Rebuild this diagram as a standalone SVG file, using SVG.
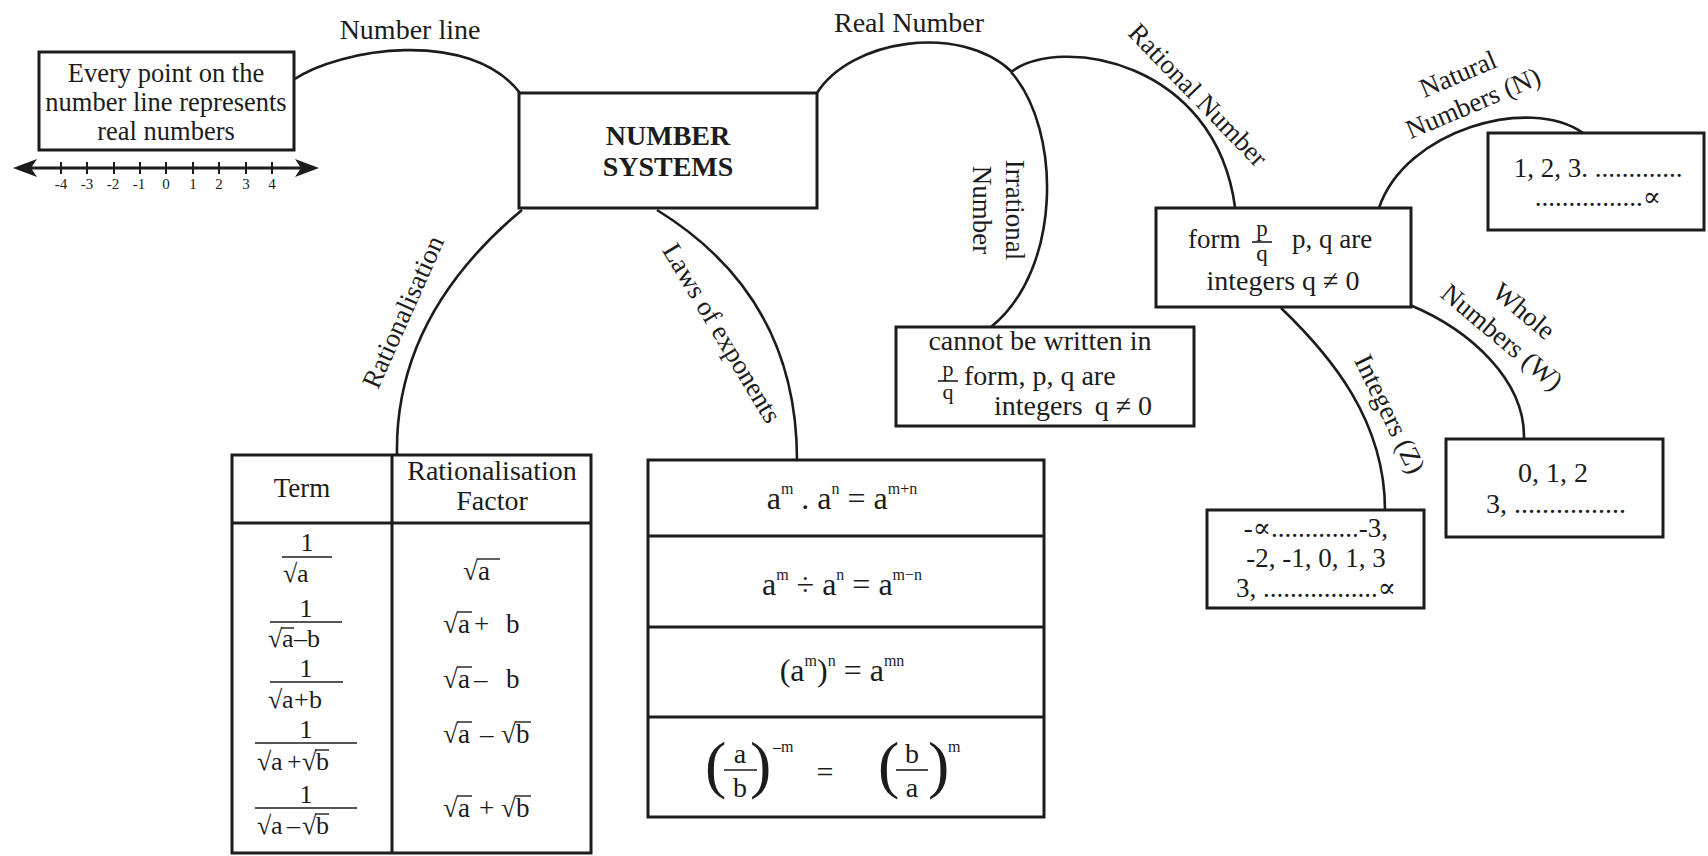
<svg xmlns="http://www.w3.org/2000/svg" width="1708" height="856" viewBox="0 0 1708 856" font-size="27">
<style>
text { font-family: 'Liberation Serif', 'DejaVu Serif', serif; fill: #1c1c1c; }
.c { text-anchor: middle; }
.box { fill: #fff; stroke: #1c1c1c; stroke-width: 3; }
.ln { fill: none; stroke: #1c1c1c; stroke-width: 2.6; }
.rule { stroke: #1c1c1c; stroke-width: 3; }
.bar { stroke: #1c1c1c; stroke-width: 1.6; }
.ov { stroke: #1c1c1c; stroke-width: 1.4; }
.bd { font-weight: bold; font-size: 28px; }
.lab { font-size: 28px; }
.tk { font-size: 15px; }
.sp { font-size: 16px; }
.fr { font-size: 23px; }
.pa { font-size: 64px; }
</style>
<rect width="1708" height="856" fill="#fff"/>

<g id="connectors">
  <path class="ln" d="M293,80 C340,48 470,28 520,93"/>
  <path class="ln" d="M817,93 C850,40 960,22 1012,72"/>
  <path class="ln" d="M1011,72 C1062,130 1062,270 991,327"/>
  <path class="ln" d="M1011,72 C1060,35 1215,60 1235,207"/>
  <path class="ln" d="M1379,208 C1405,130 1530,95 1583,133"/>
  <path class="ln" d="M1410,305 C1470,330 1525,380 1524,438"/>
  <path class="ln" d="M1281,308 C1330,355 1385,420 1385,510"/>
  <path class="ln" d="M522,210 C450,270 395,350 397,455"/>
  <path class="ln" d="M657,210 C730,255 797,330 797,460"/>
</g>

<g id="connector-labels">
  <text class="c lab" x="410" y="39">Number line</text>
  <text class="c lab" x="909" y="32">Real Number</text>
  <g transform="translate(1198,95) rotate(46)"><text class="c" x="0" y="9">Rational Number</text></g>
  <g transform="translate(990,210) rotate(90)">
    <text class="c" x="0" y="-16">Irrational</text>
    <text class="c" x="0" y="17">Number</text>
  </g>
  <g transform="translate(1458,74) rotate(-23)"><text class="c" x="0" y="9">Natural</text></g>
  <g transform="translate(1473,103) rotate(-23)"><text class="c" x="0" y="9">Numbers (N)</text></g>
  <g transform="translate(1524,311) rotate(40)"><text class="c" x="0" y="9">Whole</text></g>
  <g transform="translate(1502,337) rotate(40)"><text class="c" x="0" y="9">Numbers (W)</text></g>
  <g transform="translate(1390,414) rotate(64)"><text class="c" x="0" y="9">Integers (Z)</text></g>
  <g transform="translate(403,312) rotate(-66)"><text class="c" x="0" y="9">Rationalisation</text></g>
  <g transform="translate(722,333) rotate(59)"><text class="c" x="0" y="9">Laws of exponents</text></g>
</g>

<g id="n-number-line">
  <rect class="box" x="39" y="52" width="255" height="98"/>
  <text class="c" x="166" y="82" font-size="26.5">Every point on the</text>
  <text class="c" x="166" y="111" font-size="26.5">number line represents</text>
  <text class="c" x="166" y="140" font-size="26.5">real numbers</text>
  <line class="rule" x1="30" y1="168" x2="302" y2="168" stroke-width="2.6"/>
  <polygon points="13,168 37,159 31,168 37,177" fill="#1c1c1c"/>
  <polygon points="319,168 295,159 301,168 295,177" fill="#1c1c1c"/>
  <g stroke="#1c1c1c" stroke-width="2">
    <line x1="61" y1="162" x2="61" y2="174"/><line x1="87" y1="162" x2="87" y2="174"/>
    <line x1="114" y1="162" x2="114" y2="174"/><line x1="140" y1="162" x2="140" y2="174"/>
    <line x1="166" y1="162" x2="166" y2="174"/><line x1="193" y1="162" x2="193" y2="174"/>
    <line x1="219" y1="162" x2="219" y2="174"/><line x1="246" y1="162" x2="246" y2="174"/>
    <line x1="272" y1="162" x2="272" y2="174"/>
  </g>
  <text class="c tk" x="61" y="189">-4</text><text class="c tk" x="87" y="189">-3</text>
  <text class="c tk" x="113" y="189">-2</text><text class="c tk" x="139" y="189">-1</text>
  <text class="c tk" x="166" y="189">0</text><text class="c tk" x="193" y="189">1</text>
  <text class="c tk" x="219" y="189">2</text><text class="c tk" x="246" y="189">3</text>
  <text class="c tk" x="272" y="189">4</text>
</g>

<g id="n-center">
  <rect class="box" x="519" y="93" width="298" height="115"/>
  <text class="c bd" x="668" y="145">NUMBER</text>
  <text class="c bd" x="668" y="176">SYSTEMS</text>
</g>

<g id="n-irrational">
  <rect class="box" x="896" y="327" width="298" height="99"/>
  <text class="c" x="1040" y="350" font-size="28">cannot be written in</text>
  <text class="c" x="948" y="376" font-size="22">p</text>
  <line class="bar" x1="938" y1="381" x2="958" y2="381"/>
  <text class="c" x="948" y="399" font-size="22">q</text>
  <text x="964" y="385" font-size="28">form, p, q are</text>
  <text x="994" y="415" font-size="28">integers<tspan dx="12">q ≠ 0</tspan></text>
</g>

<g id="n-rational">
  <rect class="box" x="1156" y="208" width="255" height="99"/>
  <text x="1188" y="248">form</text>
  <text class="c fr" x="1262" y="236">p</text>
  <line class="bar" x1="1252" y1="242" x2="1272" y2="242"/>
  <text class="c fr" x="1262" y="261">q</text>
  <text x="1292" y="248">p, q are</text>
  <text class="c" x="1283" y="290" font-size="28">integers q ≠ 0</text>
</g>

<g id="n-natural">
  <rect class="box" x="1488" y="133" width="216" height="97"/>
  <text class="c" x="1598" y="177">1, 2, 3. .............</text>
  <text class="c" x="1598" y="206">................∝</text>
</g>

<g id="n-whole">
  <rect class="box" x="1446" y="439" width="217" height="98"/>
  <text class="c" x="1553" y="482" font-size="28">0, 1, 2</text>
  <text x="1486" y="513" font-size="28">3, ................</text>
</g>

<g id="n-integers">
  <rect class="box" x="1207" y="510" width="217" height="98"/>
  <text class="c" x="1316" y="537">-∝.............-3,</text>
  <text class="c" x="1316" y="567">-2, -1, 0, 1, 3</text>
  <text class="c" x="1316" y="597">3, .................∝</text>
</g>

<g id="n-rationalisation-table">
  <rect class="box" x="232" y="455" width="359" height="398"/>
  <line class="rule" x1="392" y1="455" x2="392" y2="853"/>
  <line class="rule" x1="232" y1="523" x2="591" y2="523" stroke-width="3.6"/>
  <text class="c" x="302" y="497">Term</text>
  <text class="c" x="492" y="480" font-size="28">Rationalisation</text>
  <text class="c" x="492" y="510" font-size="28">Factor</text>

  <g font-size="26">
    <text class="c" x="307" y="551">1</text>
    <line class="bar" x1="282" y1="557" x2="332" y2="557"/>
    <text y="582"><tspan x="283">√</tspan><tspan x="297">a</tspan></text>

    <text class="c" x="306" y="617">1</text>
    <line class="bar" x1="270" y1="622" x2="342" y2="622"/>
    <text y="647"><tspan x="268">√</tspan><tspan x="282">a</tspan><tspan x="294">–</tspan><tspan x="307">b</tspan></text>
    <line class="ov" x1="281" y1="628" x2="294" y2="628"/>

    <text class="c" x="306" y="677">1</text>
    <line class="bar" x1="270" y1="682" x2="343" y2="682"/>
    <text y="708"><tspan x="268">√</tspan><tspan x="282">a</tspan><tspan x="294">+</tspan><tspan x="309">b</tspan></text>

    <text class="c" x="306" y="738">1</text>
    <line class="bar" x1="255" y1="743" x2="357" y2="743"/>
    <text y="770"><tspan x="257">√</tspan><tspan x="271">a</tspan><tspan x="287">+</tspan><tspan x="302">√</tspan><tspan x="316">b</tspan></text>
    <line class="ov" x1="315" y1="750" x2="329" y2="750"/>

    <text class="c" x="306" y="803">1</text>
    <line class="bar" x1="255" y1="808" x2="357" y2="808"/>
    <text y="834"><tspan x="257">√</tspan><tspan x="271">a</tspan><tspan x="287">–</tspan><tspan x="302">√</tspan><tspan x="316">b</tspan></text>
    <line class="ov" x1="315" y1="814" x2="329" y2="814"/>
  </g>

  <text y="580"><tspan x="463">√</tspan><tspan x="478">a</tspan></text>
  <line class="ov" x1="477" y1="559" x2="500" y2="559"/>
  <text y="633"><tspan x="443">√</tspan><tspan x="458">a</tspan><tspan x="474">+</tspan><tspan x="506">b</tspan></text>
  <line class="ov" x1="457" y1="612" x2="472" y2="612"/>
  <text y="688"><tspan x="443">√</tspan><tspan x="458">a</tspan><tspan x="474">–</tspan><tspan x="506">b</tspan></text>
  <line class="ov" x1="457" y1="667" x2="472" y2="667"/>
  <text y="743"><tspan x="443">√</tspan><tspan x="458">a</tspan><tspan x="480">–</tspan><tspan x="501">√</tspan><tspan x="516">b</tspan></text>
  <line class="ov" x1="457" y1="722" x2="472" y2="722"/>
  <line class="ov" x1="515" y1="722" x2="531" y2="722"/>
  <text y="817"><tspan x="443">√</tspan><tspan x="458">a</tspan><tspan x="479">+</tspan><tspan x="501">√</tspan><tspan x="516">b</tspan></text>
  <line class="ov" x1="457" y1="796" x2="472" y2="796"/>
  <line class="ov" x1="515" y1="796" x2="531" y2="796"/>
</g>

<g id="n-laws">
  <rect class="box" x="648" y="460" width="396" height="357"/>
  <line class="rule" x1="648" y1="536" x2="1044" y2="536"/>
  <line class="rule" x1="648" y1="627" x2="1044" y2="627"/>
  <line class="rule" x1="648" y1="717" x2="1044" y2="717"/>
  <text class="c" x="842" y="509" font-size="32">a<tspan class="sp" dy="-15">m</tspan><tspan dy="15"> . a</tspan><tspan class="sp" dy="-15">n</tspan><tspan dy="15"> = a</tspan><tspan class="sp" dy="-15">m+n</tspan></text>
  <text class="c" x="842" y="595" font-size="32">a<tspan class="sp" dy="-15">m</tspan><tspan dy="15"> ÷ a</tspan><tspan class="sp" dy="-15">n</tspan><tspan dy="15"> = a</tspan><tspan class="sp" dy="-15">m−n</tspan></text>
  <text class="c" x="842" y="681" font-size="32">(a<tspan class="sp" dy="-15">m</tspan><tspan dy="15">)</tspan><tspan class="sp" dy="-15">n</tspan><tspan dy="15"> = a</tspan><tspan class="sp" dy="-15">mn</tspan></text>

  <text class="pa" x="705" y="786">(</text>
  <text class="c" x="740" y="763" font-size="28">a</text>
  <line class="bar" x1="724" y1="770" x2="757" y2="770"/>
  <text class="c" x="740" y="797" font-size="28">b</text>
  <text class="pa" x="750" y="786">)</text>
  <text class="sp" x="773" y="752">–m</text>
  <text class="c" x="825" y="782" font-size="30">=</text>
  <text class="pa" x="878" y="786">(</text>
  <text class="c" x="912" y="763" font-size="28">b</text>
  <line class="bar" x1="896" y1="770" x2="928" y2="770"/>
  <text class="c" x="912" y="797" font-size="28">a</text>
  <text class="pa" x="928" y="786">)</text>
  <text class="sp" x="948" y="752">m</text>
</g>
</svg>
